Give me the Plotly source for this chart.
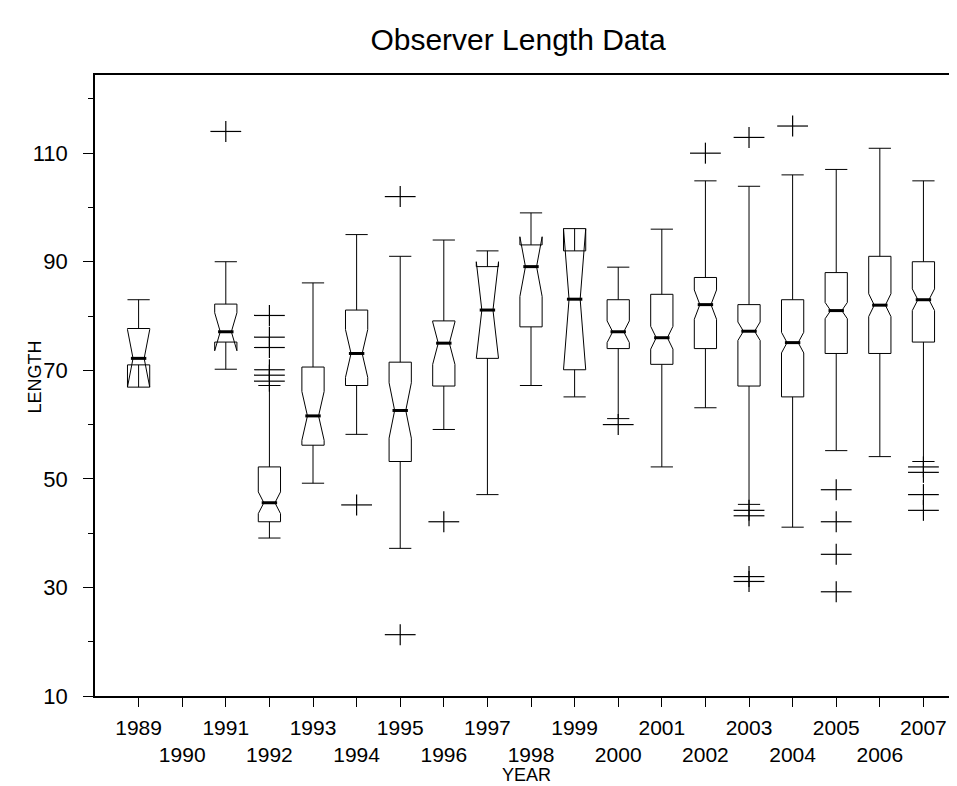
import plotly.graph_objects as go

# per-year box statistics (1990 has no data)
years = [1989, 1991, 1992, 1993, 1994, 1995, 1996, 1997, 1998, 1999,
         2000, 2001, 2002, 2003, 2004, 2005, 2006, 2007]
lower_w = [70.0, 70.2, 39.1, 49.2, 58.2, 37.2, 59.1, 47.1, 67.2, 65.1,
           61.1, 52.2, 63.1, 45.3, 41.1, 55.2, 54.1, 53.2]
q1 = [71.0, 75.2, 42.1, 56.2, 67.2, 53.2, 67.1, 72.2, 78.0, 70.1,
      74.0, 71.1, 74.0, 67.1, 65.1, 73.1, 73.1, 75.2]
medians = [72.2, 77.1, 45.6, 61.6, 73.1, 62.6, 75.0, 81.1, 89.1, 83.1,
           77.1, 76.0, 82.1, 77.2, 75.1, 81.0, 82.0, 83.0]
q3 = [77.7, 82.2, 52.2, 70.6, 81.1, 71.5, 79.1, 89.1, 93.1, 92.0,
      83.0, 84.0, 87.1, 82.1, 83.0, 88.0, 91.0, 90.0]
upper_w = [83.0, 90.0, 67.2, 86.1, 95.0, 91.0, 94.0, 92.0, 99.0, 94.0,
           89.0, 96.0, 104.9, 103.9, 106.0, 107.0, 110.9, 104.9]
notch = [5.3, 3.5, 2.0, 4.5, 4.4, 5.1, 3.9, 8.9, 5.5, 13.0,
         2.0, 2.1, 2.7, 1.7, 1.9, 1.5, 2.1, 2.0]

# outliers
out_year = [1991, 1992, 1992, 1992, 1992, 1992, 1992, 1994, 1995, 1995, 1996,
            2000, 2002, 2003, 2003, 2003, 2003, 2003, 2004,
            2005, 2005, 2005, 2005, 2007, 2007, 2007, 2007]
out_len = [114.0, 80.1, 76.1, 74.2, 70.1, 69.1, 68.0, 45.2, 102.0, 21.3, 42.1,
           60.0, 110.0, 112.9, 44.2, 43.2, 32.0, 31.1, 115.0,
           48.0, 42.1, 36.1, 29.2, 52.2, 51.2, 47.1, 44.2]

tick_years = list(range(1989, 2008))
tick_text = [str(y) if y % 2 else "<br>" + str(y) for y in tick_years]

FONT = "Liberation Sans, Arial, sans-serif"

fig = go.Figure()
fig.add_trace(go.Box(
    x=years, q1=q1, median=medians, q3=q3,
    lowerfence=lower_w, upperfence=upper_w, notchspan=notch,
    notched=True, notchwidth=0.25, width=0.51, whiskerwidth=1,
    boxpoints=False, fillcolor="rgba(0,0,0,0)",
    line=dict(color="black", width=1), showlegend=False,
))
# heavier median bars
fig.add_trace(go.Scatter(
    x=years, y=medians, mode="markers", showlegend=False,
    marker=dict(symbol="line-ew", size=11, line=dict(color="black", width=3)),
))
# outlier plus signs
fig.add_trace(go.Scatter(
    x=out_year, y=out_len, mode="markers", showlegend=False,
    marker=dict(symbol="line-ew", size=22, line=dict(color="black", width=1.2)),
))
fig.add_trace(go.Scatter(
    x=out_year, y=out_len, mode="markers", showlegend=False,
    marker=dict(symbol="line-ns", size=15, line=dict(color="black", width=1.2)),
))

# page body has an 8px margin, so the figure is sized to fit inside it
fig.update_layout(
    width=949, height=778,
    margin=dict(l=87, r=0, t=67, b=90),
    paper_bgcolor="white", plot_bgcolor="white",
    font=dict(family=FONT, color="black"),
    title=dict(text="Observer Length Data", x=0.5374, xanchor="center",
               y=0.959, yanchor="middle", font=dict(size=30)),
    xaxis=dict(
        range=[1988, 2007.77], tickvals=tick_years, ticktext=tick_text,
        tickangle=0,
        ticks="outside", ticklen=9, tickcolor="black", tickwidth=1,
        showline=True, linecolor="black", linewidth=1.5, mirror=True,
        showgrid=False, zeroline=False, tickfont=dict(size=21),
        ticklabelstandoff=3,
        automargin=False,
    ),
    yaxis=dict(
        range=[10, 124.4], tickvals=[10, 30, 50, 70, 90, 110],
        ticks="outside", ticklen=10, tickcolor="black", tickwidth=1,
        minor=dict(tickvals=[20, 40, 60, 80, 100, 120], ticks="outside",
                   ticklen=5, tickcolor="black"),
        showline=True, linecolor="black", linewidth=1.5, mirror=False,
        showgrid=False, zeroline=False, tickfont=dict(size=22),
        ticklabelstandoff=11,
        automargin=False,
    ),
    annotations=[
        dict(text="YEAR", xref="paper", yref="paper", x=0.501, y=-0.127,
             xanchor="center", yanchor="middle", showarrow=False,
             font=dict(size=18)),
        dict(text="LENGTH", xref="paper", yref="paper", x=-0.0696, y=0.513,
             xanchor="center", yanchor="middle", textangle=-90,
             showarrow=False, font=dict(size=18)),
    ],
)

fig.write_html("out.html")
